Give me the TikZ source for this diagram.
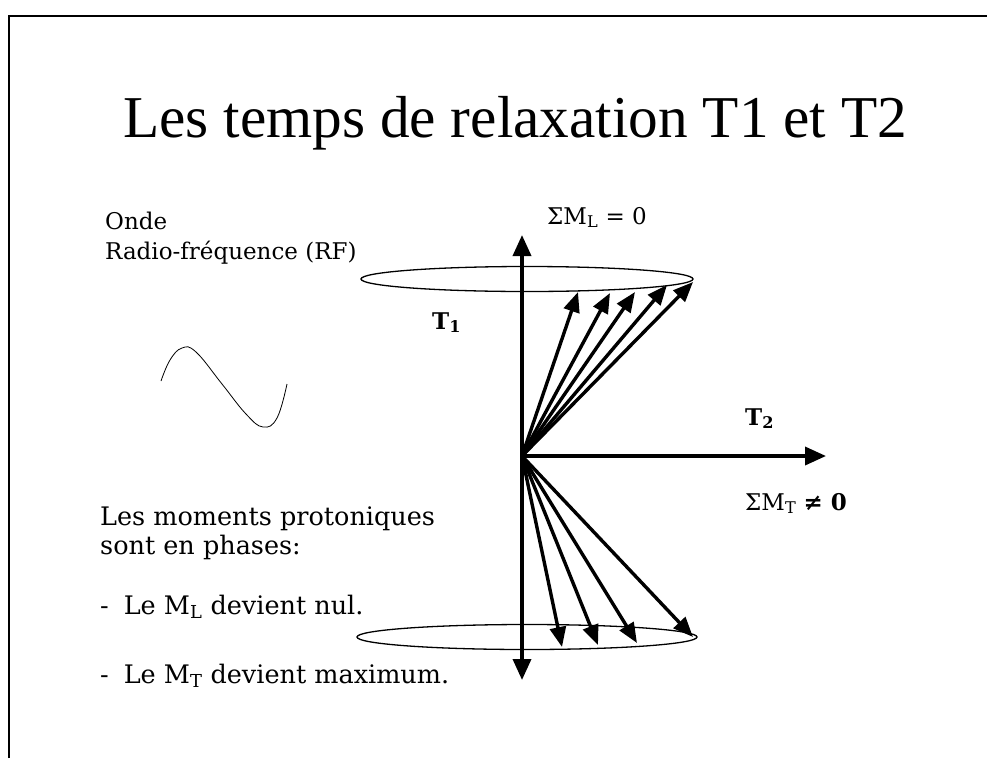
\documentclass[tikz,border=0pt]{standalone}
\usepackage{fontspec}
\setmainfont{DejaVu Serif}
\newfontfamily\titlefont{Liberation Serif}
\usetikzlibrary{arrows.meta}
\tikzset{
  vec/.style={line width=3.4pt,-{Triangle[length=20pt,width=16pt]}},
  axisline/.style={line width=3.6pt,-{Triangle[length=21pt,width=18pt]}},
  txt/.style={inner sep=0pt,anchor=base west,font=\fontsize{25.5}{30}\selectfont},
  lbl/.style={inner sep=0pt,anchor=base west,font=\fontsize{23}{27}\selectfont},
  big/.style={inner sep=0pt,anchor=base west,font=\fontsize{23}{26}\selectfont},
  ring/.style={line width=1.3pt},
}
\begin{document}
\begin{tikzpicture}[x=1pt,y=-1pt]
\useasboundingbox (0,0) rectangle (987,758);
% frame
\draw[line width=2.6pt] (9,758) -- (9,16) -- (987,16);
% title
\node[inner sep=0pt,anchor=base west,font=\titlefont\fontsize{59.3}{62}\selectfont] (title) at (123,137) {Les temps de relaxation T1 et T2};
% left texts
\node[lbl] (onde) at (105,229) {Onde};
\node[lbl] (rf) at (105,259) {Radio-fréquence (RF)};
\draw[line width=0.8pt] plot[smooth,tension=0.7] coordinates {(161,381) (170,360) (182,348) (196,352) (222,384) (246,414) (263,427) (277,418) (287,384)};
\node[txt] (t1) at (100,525) {Les moments protoniques};
\node[txt] (t2) at (100,554) {sont en phases:};
\node[txt] (t3) at (100,614) {-\hspace{15pt}Le M\textsubscript{L} devient nul.};
\node[txt] (t4) at (100,683) {-\hspace{15pt}Le M\textsubscript{T} devient maximum.};
% ellipses
\draw[ring] (527,279) ellipse [x radius=166,y radius=12.5];
\draw[ring] (527,637) ellipse [x radius=170,y radius=12.5];
% axes
\coordinate (o) at (522,456);
\coordinate (top) at (522,235);
\coordinate (bot) at (522,680);
\coordinate (right) at (826,456);
\draw[axisline] (o) -- (top);
\draw[axisline] (o) -- (bot);
\draw[axisline] (o) -- (right);
% upper vectors
\coordinate (u1) at (578,292);
\coordinate (u2) at (610,293);
\coordinate (u3) at (635,292);
\coordinate (u4) at (667,285);
\coordinate (u5) at (693,282);
\foreach \p in {u1,u2,u3,u4,u5} \draw[vec] (o) -- (\p);
% lower vectors
\coordinate (d1) at (562,647);
\coordinate (d2) at (598,645);
\coordinate (d3) at (637,643);
\coordinate (d4) at (693,637);
\foreach \p in {d1,d2,d3,d4} \draw[vec] (o) -- (\p);
% labels
\node[big] (sml) at (547,224) {ΣM\textsubscript{L} = 0};
\node[big,font=\fontsize{23}{26}\selectfont\bfseries] (T1) at (432,329) {T\textsubscript{1}};
\node[big,font=\fontsize{23}{26}\selectfont\bfseries] (T2) at (745,425) {T\textsubscript{2}};
\node[big] (smt) at (745,510) {ΣM\textsubscript{T} \textbf{≠ 0}};
\end{tikzpicture}
\end{document}
